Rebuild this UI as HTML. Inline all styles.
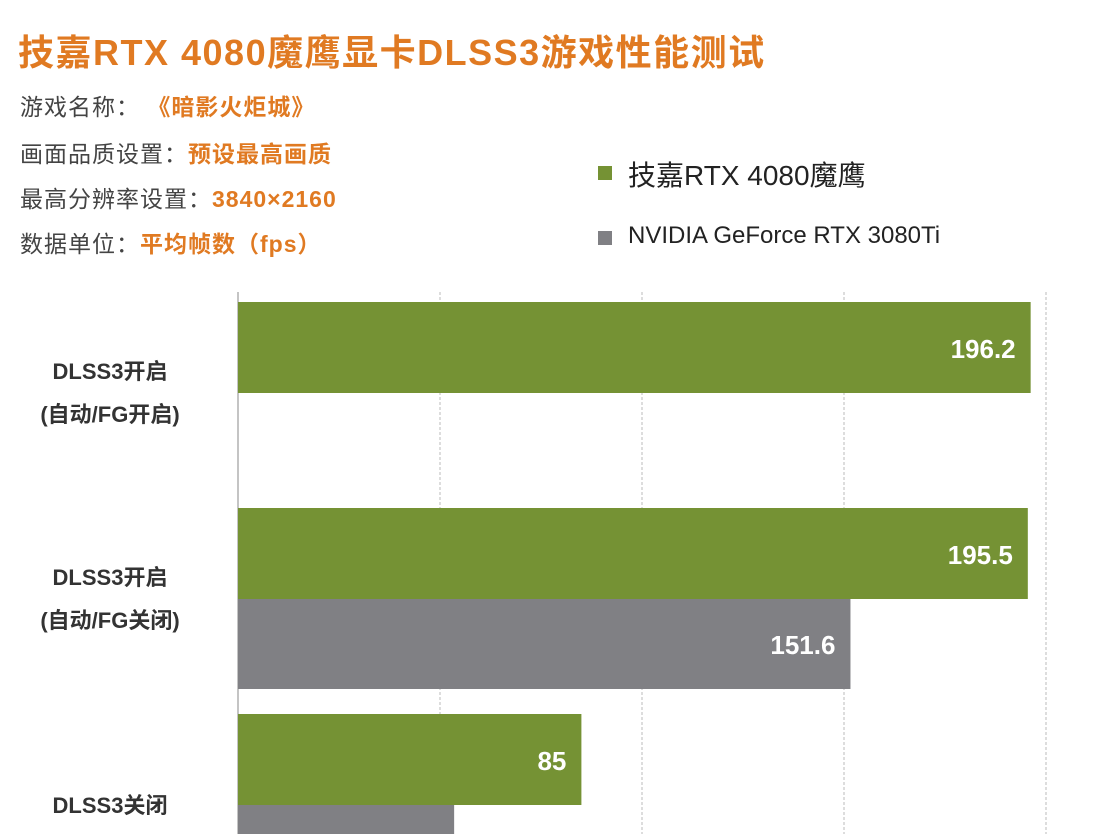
<!DOCTYPE html>
<html><head><meta charset="utf-8">
<style>
body{margin:0;width:1100px;height:834px;background:#fff;overflow:hidden;font-family:"Liberation Sans","Noto Sans CJK SC",sans-serif;}
.t{position:absolute;white-space:nowrap}
.info{font-size:23px;color:#444;letter-spacing:1px}
.info span{color:#e07a22;font-weight:bold}
</style></head><body>
<div class="t" style="left:18px;top:24px;font-size:36px;font-weight:bold;color:#e07a22;letter-spacing:1.5px">技嘉RTX 4080魔鹰显卡DLSS3游戏性能测试</div>
<div class="t info" style="left:20px;top:88px">游戏名称：&nbsp;<span>《暗影火炬城》</span></div>
<div class="t info" style="left:20px;top:135px">画面品质设置：<span>预设最高画质</span></div>
<div class="t info" style="left:20px;top:180px">最高分辨率设置：<span>3840×2160</span></div>
<div class="t info" style="left:20px;top:225px">数据单位：<span>平均帧数（fps）</span></div>
<div style="position:absolute;left:598px;top:166px;width:14px;height:14px;background:#759234"></div>
<div class="t" style="left:628px;top:154px;font-size:28px;color:#222">技嘉RTX 4080魔鹰</div>
<div style="position:absolute;left:598px;top:231px;width:14px;height:14px;background:#808084"></div>
<div class="t" style="left:628px;top:222px;font-size:24px;color:#222">NVIDIA GeForce RTX 3080Ti</div>
<svg id="chart" width="1100" height="834" style="position:absolute;left:0;top:0;overflow:hidden"></svg>
<script>
const categories=[["DLSS3开启","(自动/FG开启)"],["DLSS3开启","(自动/FG关闭)"],["DLSS3关闭"]];
const seriesA=[196.2,195.5,85];
const seriesB=[0,151.6,53.5];
const labelsA=["196.2","195.5","85"];
const labelsB=["","151.6","53.5"];
const gridTicks=[0,50,100,150,200];
const svg=document.getElementById('chart');const NS='http://www.w3.org/2000/svg';
const x0=238,k=4.04;const xs=v=>x0+v*k;
const gy=i=>302+i*206;
function mk(t,a){const e=document.createElementNS(NS,t);for(const q in a)e.setAttribute(q,a[q]);svg.appendChild(e);return e;}
gridTicks.forEach((g,i)=>{const l=mk('line',{x1:xs(g),x2:xs(g),y1:292,y2:834,stroke:i==0?'#888':'#bbb','stroke-width':1,'stroke-dasharray':i==0?'':'3,2'});

});
categories.forEach((c,i)=>{
 const y=gy(i);
 const a=mk('rect',{x:x0,y:y,width:xs(seriesA[i])-x0,height:91,fill:'#759234'});
 
 
 if(seriesB[i]>0){const by=y+91;const b=mk('rect',{x:x0,y:by,width:xs(seriesB[i])-x0,height:Math.min(90,834-by),fill:'#808084'});
 
 
 if(by+60<834){const tb=mk('text',{x:xs(seriesB[i])-15,y:y+146,'text-anchor':'end','font-size':26,'font-weight':'bold',fill:'#fff'});tb.textContent=labelsB[i];
 
 }}
 const ta=mk('text',{x:xs(seriesA[i])-15,y:y+56,'text-anchor':'end','font-size':26,'font-weight':'bold',fill:'#fff'});ta.textContent=labelsA[i];
 
 
 const cy=y+90;
 c.forEach((s,j)=>{const t=mk('text',{x:110,y:cy+(c.length==1?9:(j==0?-13:30)),'text-anchor':'middle','font-size':22,'font-weight':'bold',fill:'#333'});t.textContent=s;
 
 });
});
</script>
</body></html>
